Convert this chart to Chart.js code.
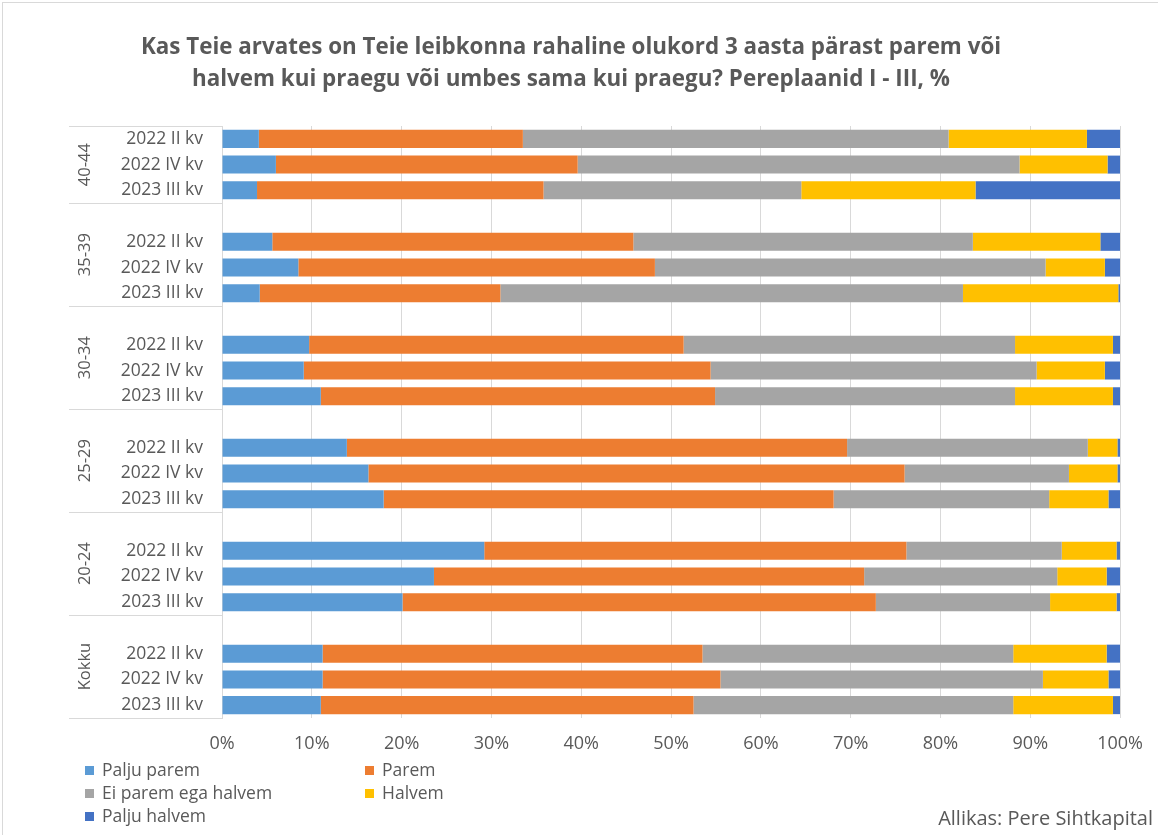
<!DOCTYPE html>
<html>
<head>
<meta charset="utf-8">
<script src="https://cdn.jsdelivr.net/npm/chart.js@4.4.1/dist/chart.umd.min.js"></script>
<style>
  html, body { margin: 0; padding: 0; background: #fff; }
</style>
</head>
<body>
<canvas id="chart" width="1158" height="835"></canvas>
<script>
const groups = ['40-44', '35-39', '30-34', '25-29', '20-24', 'Kokku'];
const quarters = ['2022 II kv', '2022 IV kv', '2023 III kv'];
const seriesNames = ['Palju parem', 'Parem', 'Ei parem ega halvem', 'Halvem', 'Palju halvem'];
const seriesColors = ['#5B9BD5', '#ED7D31', '#A5A5A5', '#FFC000', '#4472C4'];

// one value per group x quarter, top to bottom
const paljuParem       = [4.1, 6.0, 3.9,   5.6, 8.5, 4.2,   9.7, 9.1, 11.0,  13.9, 16.3, 18.0,  29.2, 23.6, 20.1,  11.2, 11.2, 11.0];
const parem            = [29.4, 33.6, 31.9, 40.2, 39.7, 26.8, 41.7, 45.3, 43.9, 55.7, 59.7, 50.1, 47.0, 47.9, 52.7, 42.3, 44.3, 41.5];
const eiParemEgaHalvem = [47.4, 49.2, 28.7, 37.8, 43.5, 51.5, 36.9, 36.3, 33.4, 26.8, 18.3, 24.0, 17.3, 21.5, 19.4, 34.6, 35.9, 35.6];
const halvem           = [15.4, 9.8, 19.4,  14.2, 6.6, 17.3,  10.9, 7.6, 10.9,  3.3, 5.4, 6.6,   6.1, 5.5, 7.4,    10.4, 7.3, 11.1];
const paljuHalvem      = [3.7, 1.4, 16.1,   2.2, 1.7, 0.2,    0.8, 1.7, 0.8,    0.3, 0.3, 1.3,   0.4, 1.5, 0.4,    1.5, 1.3, 0.8];

const xTicks = ['0%', '10%', '20%', '30%', '40%', '50%', '60%', '70%', '80%', '90%', '100%'];

const titleLines = [
    'Kas Teie arvates on Teie leibkonna rahaline olukord 3 aasta pärast parem või',
    'halvem kui praegu või umbes sama kui praegu? Pereplaanid I - III, %'
];

const FONT = '"Open Sans", Lato, sans-serif';
const TEXT = '#595959';

// build category rows with an empty spacer row before each group (except the first)
const labels = [];
const spans = [];
const rowIndex = [];
groups.forEach(function (g, gi) {
    const start = labels.length;
    if (gi > 0) { labels.push(''); rowIndex.push(-1); }
    quarters.forEach(function (q, qi) {
        labels.push(q);
        rowIndex.push(gi * quarters.length + qi);
    });
    spans.push({ name: g, start: start, end: labels.length - 1 });
});

function expand(values) {
    return rowIndex.map(function (r) { return r < 0 ? null : values[r]; });
}

const allSeries = [paljuParem, parem, eiParemEgaHalvem, halvem, paljuHalvem];
const datasets = allSeries.map(function (vals, i) {
    return {
        label: seriesNames[i],
        data: expand(vals),
        backgroundColor: seriesColors[i],
        borderWidth: 0,
        barPercentage: 0.7,
        categoryPercentage: 1.0
    };
});

// title, group labels + separator lines of the two-level category axis, legend, source
const extras = {
    id: 'extras',
    afterDraw: function (chart) {
        const ctx = chart.ctx;
        const ys = chart.scales.y;
        const left = chart.chartArea.left;
        const pitch = ys.getPixelForValue(1) - ys.getPixelForValue(0);
        ctx.save();

        ctx.fillStyle = TEXT;
        ctx.font = 'bold 22.4px ' + FONT;
        ctx.textAlign = 'center';
        ctx.textBaseline = 'middle';
        ctx.fillText(titleLines[0], 571, 48);
        ctx.fillText(titleLines[1], 571, 80);

        ctx.strokeStyle = '#D9D9D9';
        ctx.lineWidth = 1;
        spans.forEach(function (s, i) {
            const top = ys.getPixelForValue(s.start) - pitch / 2;
            const bottom = ys.getPixelForValue(s.end) + pitch / 2;
            ctx.beginPath();
            if (i === 0) {
                ctx.moveTo(69, Math.round(top) + 0.5);
                ctx.lineTo(left, Math.round(top) + 0.5);
            }
            ctx.moveTo(69, Math.round(bottom) + 0.5);
            ctx.lineTo(left, Math.round(bottom) + 0.5);
            ctx.stroke();

            ctx.save();
            ctx.translate(85, (top + bottom) / 2);
            ctx.rotate(-Math.PI / 2);
            ctx.fillStyle = TEXT;
            ctx.font = '16.5px ' + FONT;
            ctx.textAlign = 'center';
            ctx.textBaseline = 'middle';
            ctx.fillText(s.name, 0, 0);
            ctx.restore();
        });

        // legend in two columns
        const pos = [[85, 771], [365, 771], [85, 794], [365, 794], [85, 817]];
        ctx.font = '17.5px ' + FONT;
        ctx.textBaseline = 'middle';
        ctx.textAlign = 'left';
        chart.data.datasets.forEach(function (ds, i) {
            const p = pos[i];
            ctx.fillStyle = ds.backgroundColor;
            ctx.fillRect(p[0], p[1] - 5, 9, 9);
            ctx.fillStyle = TEXT;
            ctx.fillText(ds.label, p[0] + 17, p[1]);
        });

        ctx.font = '20px ' + FONT;
        ctx.textAlign = 'right';
        ctx.fillText('Allikas: Pere Sihtkapital', 1153, 819);

        // chart frame
        ctx.strokeStyle = '#D9D9D9';
        ctx.strokeRect(2.5, 2.5, 1200, 900);
        ctx.restore();
    }
};

new Chart(document.getElementById('chart'), {
    type: 'bar',
    data: { labels: labels, datasets: datasets },
    options: {
        indexAxis: 'y',
        responsive: false,
        animation: false,
        devicePixelRatio: 1,
        layout: { padding: { left: 22, right: 37, top: 126, bottom: 0 } },
        scales: {
            x: {
                stacked: true,
                min: 0,
                max: 100,
                ticks: {
                    stepSize: 10,
                    padding: 15,
                    color: TEXT,
                    font: { family: FONT, size: 18 },
                    callback: function (v, i) { return xTicks[i]; }
                },
                grid: { color: '#D9D9D9', drawTicks: false },
                border: { display: false },
                afterFit: function (scale) { scale.height = 117; }
            },
            y: {
                stacked: true,
                ticks: {
                    padding: 19,
                    autoSkip: false,
                    color: TEXT,
                    font: { family: FONT, size: 17.5 }
                },
                grid: { display: false, drawTicks: false },
                border: { display: true, color: '#D9D9D9' },
                afterFit: function (scale) { scale.width = 200; }
            }
        },
        plugins: {
            legend: { display: false },
            tooltip: { enabled: false },
            title: { display: false }
        }
    },
    plugins: [extras]
});
</script>
</body>
</html>
